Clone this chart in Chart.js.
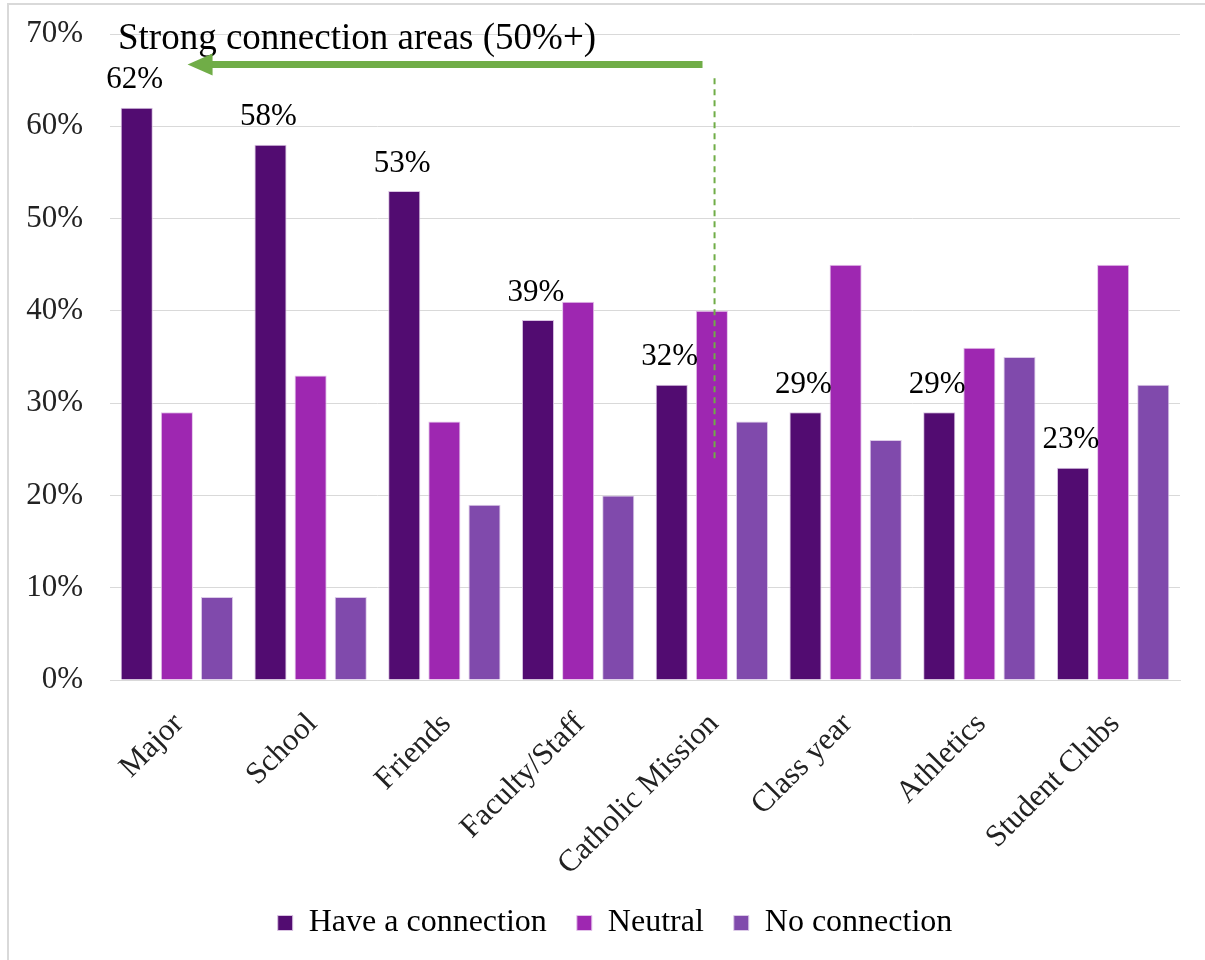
<!DOCTYPE html>
<html>
<head>
<meta charset="utf-8">
<style>
  body { margin: 0; background: #fff; }
  canvas { display: block; }
</style>
<script src="https://cdn.jsdelivr.net/npm/chart.js@4/dist/chart.umd.min.js"></script>
</head>
<body>
<canvas id="chart" width="1205" height="960"></canvas>
<script>
const categories = ['Major', 'School', 'Friends', 'Faculty/Staff', 'Catholic Mission', 'Class year', 'Athletics', 'Student Clubs']
const haveConnection = [62, 58, 53, 39, 32, 29, 29, 23]
const neutral = [29, 33, 28, 41, 40, 45, 36, 45]
const noConnection = [9, 9, 19, 20, 28, 26, 35, 32]
const yTicks = [0, 10, 20, 30, 40, 50, 60, 70]

const serif = '"Liberation Serif", "Times New Roman", serif'
const green = '#70ad47'

// labels, callout text, arrow and dashed marker
const extras = {
  id: 'extras',
  afterLayout(chart) {
    // legend sits centred under the plot rather than the whole canvas
    chart.legend.left += 50
  },
  beforeDraw(chart) {
    const ctx = chart.ctx
    ctx.save()
    ctx.fillStyle = '#fff'
    ctx.fillRect(0, 0, chart.width, chart.height)
    ctx.strokeStyle = '#d9d9d9'
    ctx.lineWidth = 2
    ctx.beginPath()
    ctx.moveTo(8, chart.height)
    ctx.lineTo(8, 4)
    ctx.lineTo(chart.width, 4)
    ctx.stroke()
    ctx.restore()
  },
  afterDatasetsDraw(chart) {
    const { ctx, scales: { x, y }, chartArea } = chart
    ctx.save()

    // value labels on the first series
    ctx.font = '31px ' + serif
    ctx.fillStyle = '#000'
    ctx.textAlign = 'center'
    ctx.textBaseline = 'bottom'
    chart.getDatasetMeta(0).data.forEach((bar, i) => {
      ctx.fillText(haveConnection[i] + '%', bar.x - 2, bar.y - 12)
    })

    // callout text
    ctx.font = '37px ' + serif
    ctx.textAlign = 'left'
    ctx.textBaseline = 'alphabetic'
    ctx.fillText('Strong connection areas (50%+)', chartArea.left + 8, y.getPixelForValue(70) + 15)

    // arrow
    const ay = y.getPixelForValue(66.7)
    const x1 = x.getPixelForValue(3.93)
    const x2 = x.getPixelForValue(0.08)
    ctx.strokeStyle = green
    ctx.fillStyle = green
    ctx.lineWidth = 7
    ctx.beginPath()
    ctx.moveTo(x1, ay)
    ctx.lineTo(x2 + 20, ay)
    ctx.stroke()
    ctx.beginPath()
    ctx.moveTo(x2, ay)
    ctx.lineTo(x2 + 25, ay - 11)
    ctx.lineTo(x2 + 25, ay + 11)
    ctx.closePath()
    ctx.fill()

    // dashed marker
    const dx = x.getPixelForValue(4.02)
    ctx.lineWidth = 2
    ctx.setLineDash([6, 5])
    ctx.beginPath()
    ctx.moveTo(dx, y.getPixelForValue(65.2))
    ctx.lineTo(dx, y.getPixelForValue(23.5))
    ctx.stroke()

    ctx.restore()
  }
}

const chart = document.querySelector('#chart').getContext('2d')

new Chart(chart, {
  type: 'bar',
  data: {
    labels: categories,
    datasets: [
      {
        label: 'Have a connection',
        data: haveConnection,
        backgroundColor: '#520c71',
        borderColor: '#d9c3e2',
        borderWidth: 1
      },
      {
        label: 'Neutral',
        data: neutral,
        backgroundColor: '#9e27b1',
        borderColor: '#e3c3ea',
        borderWidth: 1
      },
      {
        label: 'No connection',
        data: noConnection,
        backgroundColor: '#804aac',
        borderColor: '#dccbe8',
        borderWidth: 1
      }
    ]
  },
  options: {
    responsive: false,
    animation: false,
    categoryPercentage: 0.9,
    barPercentage: 0.8,
    layout: {
      padding: { left: 0, right: 25, top: 34, bottom: 11 }
    },
    scales: {
      x: {
        grid: { display: false },
        border: { display: true, color: '#d9d9d9', width: 1 },
        ticks: {
          color: '#222',
          font: { family: serif, size: 31 },
          maxRotation: 45,
          minRotation: 45,
          padding: 18,
          labelOffset: 2
        },
        afterFit: s => { s.height = 197 }
      },
      y: {
        min: 0,
        max: 70,
        afterBuildTicks: s => { s.ticks = yTicks.map(v => ({ value: v })) },
        grid: { color: '#d9d9d9', drawTicks: false },
        border: { display: false },
        ticks: {
          color: '#222',
          padding: 27,
          font: { family: serif, size: 31 },
          callback: v => v + '%'
        },
        afterFit: s => {
          s.width = 110
          s.paddingTop = 0
          s.paddingBottom = 0
        }
      }
    },
    plugins: {
      legend: {
        position: 'bottom',
        labels: {
          color: '#000',
          boxWidth: 15,
          boxHeight: 15,
          padding: 30,
          font: { family: serif, size: 32 }
        }
      },
      tooltip: { enabled: false }
    }
  },
  plugins: [extras]
})
</script>
</body>
</html>
